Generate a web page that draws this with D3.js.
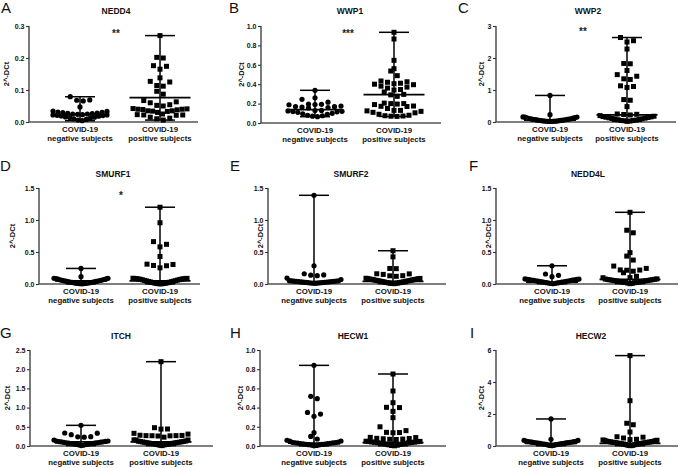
<!DOCTYPE html>
<html><head><meta charset="utf-8">
<script src="https://cdn.jsdelivr.net/npm/d3@7"></script>
<style>body{margin:0;background:#fff;} svg text{font-family:"Liberation Sans",Arial,sans-serif;fill:#111;}</style>
</head><body><svg id="chart" width="685" height="468"></svg>
<script>
// ---------- DATA ----------
const panelLetters = ["A","B","C","D","E","F","G","H","I"];
const geneNames = ["NEDD4","WWP1","WWP2","SMURF1","SMURF2","NEDD4L","ITCH","HECW1","HECW2"];
const groupLine1 = ["COVID-19","COVID-19"];
const groupLine2 = ["negative subjects","positive subjects"];
const yAxisLabel = "2^-DCt";
const significance = ["**","***","**","*","","","","",""];
const yMaxes = [0.3, 1.0, 3, 1.5, 1.5, 1.5, 2.5, 1.0, 6];
const yTickValues = [
  [0,0.1,0.2,0.3],[0,0.2,0.4,0.6,0.8,1.0],[0,1,2,3],
  [0,0.5,1.0,1.5],[0,0.5,1.0,1.5],[0,0.5,1.0,1.5],
  [0,0.5,1.0,1.5,2.0,2.5],[0,0.2,0.4,0.6,0.8,1.0],[0,2,4,6]
];
const yTickFormats = [".1f",".1f","d",".1f",".1f",".1f",".1f",".1f","d"];

const nedd4Neg = [0.079,0.069,0.068,0.066,0.047,0.034,0.033,0.031,0.030,0.029,0.028,0.027,0.026,0.025,0.025,0.024,0.023,0.022,0.022,0.021,0.020,0.019,0.018,0.016,0.015,0.014,0.012,0.010,0.008,0.006,0.004];
const nedd4Pos = [0.270,0.202,0.200,0.176,0.174,0.165,0.138,0.127,0.125,0.114,0.112,0.096,0.087,0.067,0.063,0.060,0.054,0.052,0.050,0.042,0.041,0.040,0.040,0.039,0.038,0.035,0.035,0.034,0.033,0.030,0.025,0.023,0.022,0.022,0.021,0.015,0.012,0.010,0.006];
const wwp1Neg = [0.337,0.260,0.244,0.215,0.195,0.193,0.190,0.188,0.175,0.170,0.168,0.165,0.160,0.155,0.130,0.128,0.125,0.120,0.118,0.115,0.110,0.100,0.095,0.088,0.080,0.075,0.070,0.065];
const wwp1Pos = [0.935,0.866,0.646,0.560,0.536,0.488,0.433,0.425,0.420,0.410,0.405,0.400,0.395,0.380,0.370,0.360,0.345,0.340,0.320,0.295,0.290,0.275,0.205,0.200,0.200,0.195,0.190,0.175,0.172,0.170,0.150,0.130,0.130,0.125,0.120,0.110,0.105,0.090,0.080,0.075,0.072,0.070,0.068];
const wwp2Neg = [0.830,0.228,0.160,0.155,0.150,0.140,0.130,0.120,0.110,0.100,0.095,0.090,0.085,0.080,0.075,0.070,0.065,0.060,0.055,0.050,0.045,0.040,0.035,0.030,0.028,0.025,0.022,0.020,0.018,0.015];
const wwp2Pos = [2.640,2.540,2.500,2.280,1.830,1.820,1.610,1.480,1.430,1.350,1.330,1.130,1.110,1.080,0.700,0.680,0.480,0.250,0.240,0.235,0.220,0.200,0.180,0.170,0.160,0.150,0.140,0.130,0.120,0.110,0.100,0.090,0.080,0.070,0.060,0.050,0.045,0.040,0.030,0.020];
const smurf1Neg = [0.243,0.114,0.090,0.088,0.085,0.080,0.075,0.070,0.066,0.062,0.058,0.055,0.050,0.047,0.044,0.040,0.037,0.034,0.030,0.027,0.024,0.021,0.018,0.015,0.012,0.010,0.008,0.006,0.004,0.002];
const smurf1Pos = [1.200,0.957,0.662,0.620,0.580,0.430,0.310,0.305,0.290,0.285,0.253,0.085,0.080,0.090,0.088,0.086,0.083,0.078,0.075,0.072,0.068,0.064,0.060,0.056,0.052,0.048,0.044,0.040,0.036,0.032,0.028,0.024,0.020,0.017,0.014,0.011,0.008,0.006,0.004,0.002];
const smurf2Neg = [1.386,0.284,0.160,0.142,0.138,0.130,0.093,0.070,0.052,0.050,0.048,0.046,0.044,0.042,0.040,0.038,0.036,0.034,0.032,0.030,0.028,0.026,0.024,0.022,0.020,0.018,0.016,0.014,0.012,0.010];
const smurf2Pos = [0.520,0.424,0.243,0.240,0.160,0.158,0.150,0.130,0.128,0.120,0.090,0.087,0.084,0.081,0.078,0.075,0.072,0.069,0.066,0.063,0.060,0.057,0.054,0.051,0.048,0.045,0.042,0.039,0.036,0.033,0.030,0.027,0.024,0.021,0.018,0.015,0.012,0.010,0.008,0.005];
const nedd4lNeg = [0.285,0.156,0.135,0.114,0.080,0.077,0.074,0.071,0.068,0.065,0.062,0.059,0.056,0.053,0.050,0.047,0.044,0.041,0.038,0.035,0.032,0.029,0.026,0.023,0.020,0.017,0.014,0.011,0.008,0.005];
const nedd4lPos = [1.120,0.840,0.800,0.490,0.436,0.374,0.280,0.244,0.220,0.218,0.215,0.200,0.176,0.120,0.100,0.098,0.080,0.077,0.074,0.071,0.068,0.065,0.062,0.059,0.056,0.053,0.050,0.047,0.044,0.041,0.038,0.035,0.032,0.029,0.026,0.023,0.020,0.015,0.010,0.005];
const itchNeg = [0.538,0.339,0.335,0.295,0.243,0.240,0.230,0.156,0.130,0.125,0.120,0.115,0.110,0.105,0.100,0.095,0.090,0.085,0.080,0.075,0.070,0.065,0.060,0.055,0.050,0.045,0.040,0.030,0.020,0.010];
const itchPos = [2.196,0.477,0.443,0.440,0.330,0.310,0.280,0.275,0.270,0.270,0.268,0.265,0.260,0.230,0.160,0.158,0.155,0.130,0.125,0.120,0.115,0.110,0.105,0.100,0.095,0.090,0.085,0.080,0.075,0.070,0.065,0.060,0.055,0.050,0.045,0.040,0.035,0.030,0.020,0.010];
const hecw1Neg = [0.840,0.517,0.493,0.350,0.333,0.309,0.139,0.100,0.073,0.060,0.052,0.050,0.040,0.038,0.036,0.034,0.032,0.030,0.028,0.026,0.024,0.022,0.020,0.018,0.016,0.014,0.012,0.010,0.006,0.002];
const hecw1Pos = [0.750,0.573,0.451,0.403,0.400,0.361,0.295,0.200,0.160,0.142,0.140,0.138,0.090,0.088,0.080,0.078,0.075,0.072,0.070,0.068,0.050,0.048,0.046,0.044,0.042,0.040,0.038,0.036,0.034,0.032,0.030,0.028,0.026,0.024,0.020,0.016,0.012,0.008,0.005,0.002];
const hecw2Neg = [1.690,0.420,0.360,0.350,0.300,0.290,0.280,0.270,0.260,0.250,0.240,0.230,0.220,0.210,0.200,0.190,0.180,0.170,0.160,0.150,0.140,0.130,0.120,0.110,0.100,0.080,0.060,0.040,0.030,0.020];
const hecw2Pos = [5.650,2.830,1.420,1.330,0.875,0.580,0.550,0.500,0.420,0.400,0.380,0.360,0.350,0.330,0.300,0.290,0.280,0.270,0.260,0.250,0.240,0.230,0.220,0.210,0.200,0.190,0.180,0.170,0.160,0.150,0.140,0.130,0.120,0.110,0.100,0.080,0.060,0.040,0.030,0.020];

// central (median) line values
const negCenters = [0.024, 0.137, 0.06, 0.05, 0.035, 0.03, 0.11, 0.03, 0.17];
const posCenters = [0.076, 0.292, 0.22, 0.05, 0.04, 0.073, 0.11, 0.035, 0.17];

const negSeries = [nedd4Neg, wwp1Neg, wwp2Neg, smurf1Neg, smurf2Neg, nedd4lNeg, itchNeg, hecw1Neg, hecw2Neg];
const posSeries = [nedd4Pos, wwp1Pos, wwp2Pos, smurf1Pos, smurf2Pos, nedd4lPos, itchPos, hecw1Pos, hecw2Pos];

// ---------- LAYOUT ----------
const layout = [
  {ax:29, top:26, bottom:122, end:198, neg:80, pos:160, titleX:116, letterX:1, ylabX:6, starX:116, starY:37},
  {ax:261, top:26, bottom:123, end:441, neg:315, pos:394, titleX:350, letterX:229, ylabX:241, starX:348, starY:37},
  {ax:496, top:26, bottom:122, end:676, neg:550, pos:627, titleX:588, letterX:458, ylabX:481, starX:583, starY:35},
  {ax:39, top:188, bottom:284, end:200, neg:81, pos:160, titleX:113, letterX:0, ylabX:12, starX:121, starY:199},
  {ax:268, top:188, bottom:284, end:446, neg:314, pos:393, titleX:351, letterX:230, ylabX:260, starX:351, starY:199},
  {ax:496, top:188, bottom:284, end:678, neg:552, pos:630, titleX:588, letterX:469, ylabX:488, starX:588, starY:199},
  {ax:30, top:350, bottom:446, end:213, neg:81, pos:161, titleX:121, letterX:0, ylabX:7, starX:121, starY:360},
  {ax:260, top:350, bottom:446, end:446, neg:314, pos:393, titleX:353, letterX:230, ylabX:240, starX:353, starY:360},
  {ax:496, top:350, bottom:446, end:678, neg:551, pos:630, titleX:591, letterX:470, ylabX:481, starX:591, starY:360}
];
const rowTitleY = [14, 177, 339];
const rowLetterY = [13, 171, 338];

const ROW_H = 6, MAX_SP = 6.5, MAX_W = 54;
const MEAN_W = [52, 61], CAP_W = 30;
const FONT = '"Liberation Sans",Arial,sans-serif';

const svg = d3.select("#chart");

function swarm(values, y, cx) {
  const pts = values.map(v => ({v, py: y(v)})).sort((a,b) => a.v - b.v);
  const rows = []; let cur = null;
  for (const p of pts) {
    if (!cur || cur.py0 - p.py > ROW_H) { cur = {py0: p.py, pts: []}; rows.push(cur); }
    cur.pts.push(p);
  }
  rows.forEach(r => {
    const n = r.pts.length;
    const sp = n > 1 ? Math.min(MAX_SP, MAX_W / (n - 1)) : 0;
    const slots = d3.range(n).map(k => (k - (n - 1) / 2) * sp);
    slots.sort((a,b) => Math.abs(a) - Math.abs(b) || b - a);
    r.pts.forEach((p,i) => p.px = cx + slots[i]);
  });
  return pts;
}

layout.forEach((L, i) => {
  const row = Math.floor(i / 3);
  const g = svg.append("g");
  const y = d3.scaleLinear().domain([0, yMaxes[i]]).range([L.bottom, L.top]);

  // y axis
  const yAxis = d3.axisLeft(y).tickValues(yTickValues[i]).tickSize(3).tickPadding(1.5)
    .tickFormat(d3.format(yTickFormats[i]));
  const ya = g.append("g").attr("transform", `translate(${L.ax},0)`).call(yAxis);
  ya.select(".domain").attr("stroke", "#333").attr("stroke-width", 1.3).attr("d", `M0,${L.top}V${L.bottom}`);
  ya.selectAll(".tick line").attr("stroke", "#333").attr("stroke-width", 1.1);
  ya.selectAll(".tick text").attr("font-size", 7).attr("font-weight", "bold")
    .attr("font-family", FONT).attr("fill", "#222");

  // x axis line
  const x = d3.scalePoint().domain([0,1]).range([L.neg, L.pos]);
  g.append("line").attr("x1", L.ax).attr("x2", L.end).attr("y1", L.bottom).attr("y2", L.bottom)
    .attr("stroke", "#555").attr("stroke-width", 1.3);

  // category labels
  [0,1].forEach(k => {
    const t = g.append("text").attr("text-anchor","middle").attr("font-size", 7.8).attr("font-weight","bold");
    t.append("tspan").attr("x", x(k)).attr("y", L.bottom + 9.5).text(groupLine1[k]);
    t.append("tspan").attr("x", x(k)).attr("y", L.bottom + 19).text(groupLine2[k]);
  });

  // y label
  g.append("text").attr("transform", `translate(${L.ylabX},${(L.top + L.bottom) / 2}) rotate(-90)`)
    .attr("text-anchor","middle").attr("dy","0.35em").attr("font-size", 7.5).attr("font-weight","bold")
    .text(yAxisLabel);

  // title & letter
  g.append("text").attr("x", L.titleX).attr("y", rowTitleY[row]).attr("text-anchor","middle")
    .attr("font-size", 8.5).attr("font-weight","bold").text(geneNames[i]);
  g.append("text").attr("x", L.letterX).attr("y", rowLetterY[row]).attr("font-size", 15)
    .text(panelLetters[i]);

  if (significance[i]) {
    g.append("text").attr("x", L.starX).attr("y", L.starY).attr("text-anchor","middle")
      .attr("font-size", 10).attr("font-weight","bold").attr("font-family", FONT)
      .style("fill","#222").text(significance[i]);
  }

  // points
  const groups = [negSeries[i], posSeries[i]];
  const centers = [negCenters[i], posCenters[i]];
  groups.forEach((vals, k) => {
    const cx = x(k);
    const pts = swarm(vals, y, cx);
    if (k === 0) {
      g.selectAll(null).data(pts).enter().append("circle")
        .attr("cx", d => d.px).attr("cy", d => d.py).attr("r", 2.6).attr("fill", "#000");
    } else {
      g.selectAll(null).data(pts).enter().append("rect")
        .attr("x", d => d.px - 2.5).attr("y", d => d.py - 2.5).attr("width", 5).attr("height", 5).attr("fill", "#000");
    }
    const [mn, mx] = d3.extent(vals);
    g.append("line").attr("x1", cx).attr("x2", cx).attr("y1", y(mn)).attr("y2", y(mx))
      .attr("stroke","#000").attr("stroke-width", 1.5);
    [mn, mx].forEach(v => g.append("line").attr("x1", cx - CAP_W/2).attr("x2", cx + CAP_W/2)
      .attr("y1", y(v)).attr("y2", y(v)).attr("stroke","#000").attr("stroke-width", 1.5));
    g.append("line").attr("x1", cx - MEAN_W[k]/2).attr("x2", cx + MEAN_W[k]/2)
      .attr("y1", y(centers[k])).attr("y2", y(centers[k])).attr("stroke","#000").attr("stroke-width", 1.8);
  });
});
</script>
</body></html>
